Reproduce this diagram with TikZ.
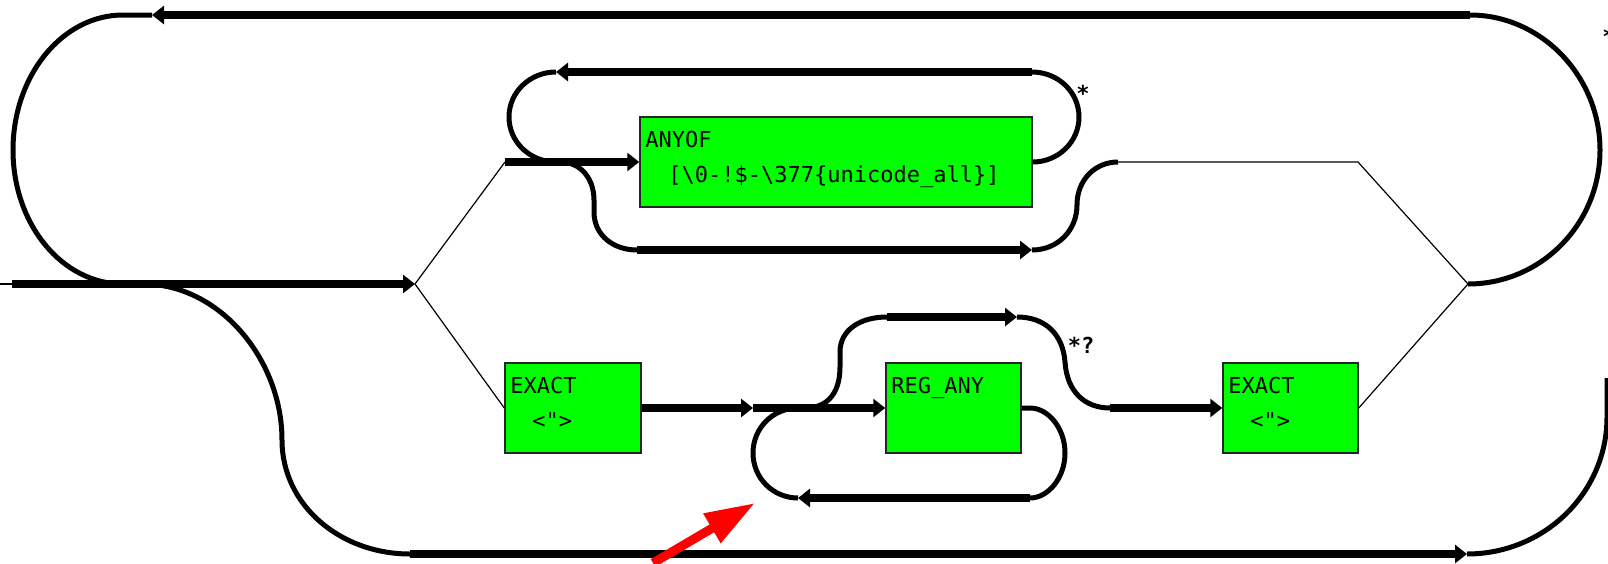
\documentclass[tikz,border=0pt]{standalone}
\usepackage{fontspec}
\newfontfamily\railfont{DejaVu Sans Mono}
\usetikzlibrary{arrows.meta}
\definecolor{opgreen}{RGB}{0,255,0}
\tikzset{
  railline/.style={line width=3.75pt},
  railcurve/.style={line width=2.5pt},
  thinwire/.style={line width=0.6pt},
  fwd/.style={-{Triangle[length=6pt,width=9pt]}},
  opbox/.style={draw=black!85, line width=0.75pt, fill=opgreen, inner sep=0pt, minimum height=45pt},
  optext/.style={font=\railfont\fontsize{11}{13}\selectfont, inner sep=0pt, anchor=base west},
  quant/.style={font=\railfont\bfseries\fontsize{11}{13}\selectfont, inner sep=0pt, anchor=base},
}
\begin{document}
\begin{tikzpicture}[x=0.5pt, y=-0.5pt]
\fill[white] (0,0) rectangle (1608,563);
\useasboundingbox (0,0) rectangle (1608,563);

% operator boxes
\node[opbox, minimum width=196pt] (anyof)  at (836,162) {};
\node[opbox, minimum width=68pt]  (exact1) at (573,408) {};
\node[opbox, minimum width=67.5pt] (regany) at (953.5,408) {};
\node[opbox, minimum width=67.5pt] (exact2) at (1290.5,408) {};

\node[optext] (anyofA) at (645,147) {ANYOF};
\node[optext] (anyofB) at (668,182) {[\textbackslash 0-!\$-\textbackslash 377\{unicode\_all\}]};
\node[optext] (exact1A) at (510,393) {EXACT};
\node[optext] (exact1B) at (532,428) {<">};
\node[optext] (reganyA) at (891,393) {REG\_ANY};
\node[optext] (exact2A) at (1228,393) {EXACT};
\node[optext] (exact2B) at (1250,428) {<">};

% quantifier marks
\node[quant] (qanyof) at (1083,101) {*};
\node[quant] (qlazy)  at (1081,353) {*?};
\node[quant] (qouter) at (1609,44) {*};

% junctions and rail points
\coordinate (in0) at (0,284);
\coordinate (in1) at (12,284);
\coordinate (j1) at (415,284);
\coordinate (j2) at (1468,284);

% entry rail
\draw[thinwire] (in0) -- (in1);
\draw[railline, fwd] (in1) -- (j1);

% outer repeat loop over the top
\coordinate (otl) at (123,15);
\coordinate (oarr) at (152,15);
\coordinate (otr) at (1470,15);
\coordinate (ol) at (13,150);
\coordinate (or) at (1600,150);
\coordinate (ojoin) at (123,284);
\draw[railline, fwd] (otr) -- (oarr);
\draw[railcurve] (oarr) -- (otl) .. controls (62,15) and (13,76) .. (ol)
  .. controls (13,224) and (62,284) .. (ojoin);
\draw[railcurve] (j2) .. controls (1541,284) and (1600,224) .. (or)
  .. controls (1600,76) and (1541,15) .. (otr);

% outer bypass under everything
\coordinate (b0) at (143,284);
\coordinate (b1) at (282,440);
\coordinate (b2) at (410,554);
\coordinate (b3) at (1467,554);
\coordinate (b4) at (1607,417);
\coordinate (b5) at (1607,378);
\draw[railcurve] (b0) .. controls (220,284) and (282,360) .. (b1)
  .. controls (282,505) and (340,554) .. (b2);
\draw[railline, fwd] (b2) -- (b3);
\draw[railcurve] (b3) .. controls (1544,554) and (1607,493) .. (b4) -- (b5);

% upper alternative: ANYOF*
\coordinate (u0) at (505,162);
\draw[thinwire] (j1) -- (u0);
\draw[railline, fwd] (u0) -- (anyof.west);

\coordinate (lr) at (1079,117);
\coordinate (ltr) at (1032,72);
\coordinate (ltl) at (556,72);
\coordinate (ll) at (509,117);
\coordinate (lj) at (556,162);
\draw[railcurve] (anyof.east) .. controls (1058,162) and (1079,142) .. (lr)
  .. controls (1079,92) and (1058,72) .. (ltr);
\draw[railline, fwd] (ltr) -- (ltl);
\draw[railcurve] (ltl) .. controls (530,72) and (509,92) .. (ll)
  .. controls (509,142) and (530,162) .. (lj);

\coordinate (p0) at (560,162);
\coordinate (p1) at (594,200);
\coordinate (p2) at (594,212);
\coordinate (p3) at (637,250);
\coordinate (p4) at (1032,250);
\coordinate (p5) at (1077,205);
\coordinate (p6) at (1118,162);
\coordinate (q0) at (1358,162);
\draw[railcurve] (p0) .. controls (582,162) and (594,180) .. (p1) -- (p2)
  .. controls (594,235) and (613,250) .. (p3);
\draw[railline, fwd] (p3) -- (p4);
\draw[railcurve] (p4) .. controls (1058,250) and (1077,230) .. (p5)
  .. controls (1077,180) and (1095,162) .. (p6);
\draw[thinwire] (p6) -- (q0) -- (j2);

% lower alternative: EXACT <"> REG_ANY*? EXACT <">
\coordinate (a1) at (753,408);
\draw[thinwire] (j1) -- (exact1.west);
\draw[railline, fwd] (exact1.east) -- (a1);
\draw[railline, fwd] (a1) -- (regany.west);

\coordinate (r0) at (1030,408);
\coordinate (r1) at (1065,453);
\coordinate (r2) at (1030,498);
\coordinate (r3) at (798,498);
\coordinate (r4) at (753,453);
\coordinate (r5) at (798,408);
\draw[railcurve] (regany.east) -- (r0) .. controls (1048,408) and (1065,428) .. (r1)
  .. controls (1065,478) and (1048,498) .. (r2);
\draw[railline, fwd] (r2) -- (r3);
\draw[railcurve] (r3) .. controls (773,498) and (753,478) .. (r4)
  .. controls (753,428) and (773,408) .. (r5);

\coordinate (s0) at (805,408);
\coordinate (s1) at (840,367);
\coordinate (s2) at (840,352);
\coordinate (s3) at (887,317);
\coordinate (s4) at (1017,317);
\coordinate (s5) at (1065,362);
\coordinate (s6) at (1110,408);
\draw[railcurve] (s0) .. controls (830,408) and (840,390) .. (s1) -- (s2)
  .. controls (840,330) and (860,317) .. (s3);
\draw[railline, fwd] (s3) -- (s4);
\draw[railcurve] (s4) .. controls (1046,317) and (1063,335) .. (s5)
  .. controls (1067,392) and (1085,408) .. (s6);
\draw[railline, fwd] (s6) -- (exact2.west);
\draw[thinwire] (exact2.east) -- (j2);

% red pointer
\coordinate (rtail) at (653,563);
\coordinate (rtip) at (755,503);
\draw[red, line width=4.5pt, -{Triangle[length=25pt,width=16pt]}] (rtail) -- (rtip);
\end{tikzpicture}
\end{document}
